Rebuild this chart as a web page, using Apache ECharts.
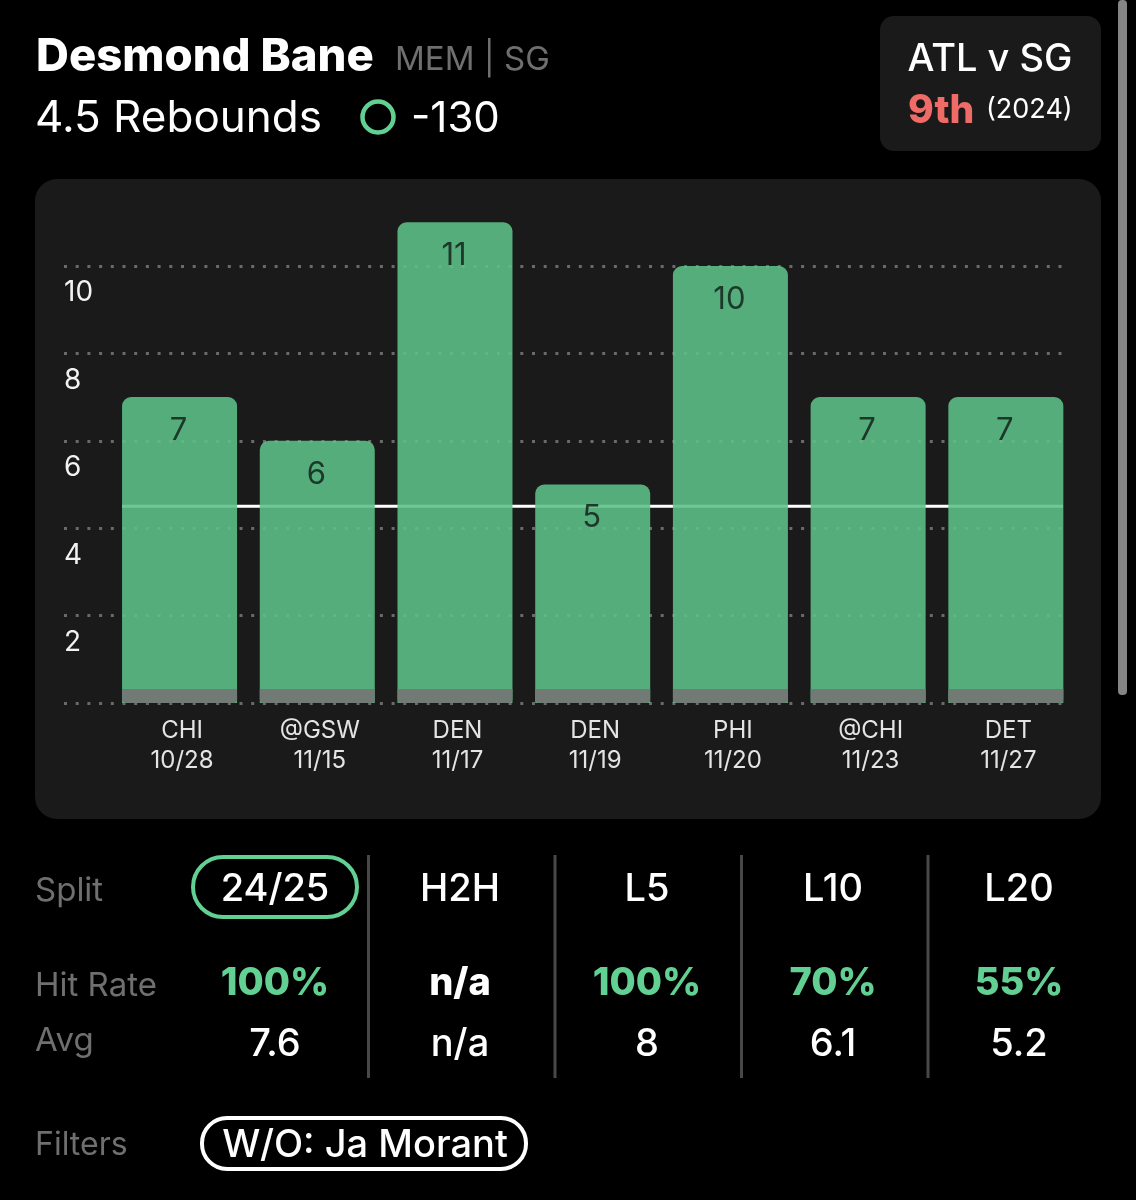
<!DOCTYPE html>
<html lang="en">
<head>
<meta charset="UTF-8">
<title>Desmond Bane rebounds</title>
<style>
  html, body { margin: 0; background: #000; }
  #chart { width: 1136px; height: 1200px; }
</style>
</head>
<body>
<div id="chart"></div>
<script src="https://cdn.jsdelivr.net/npm/echarts@6/dist/echarts.min.js"></script>
<script>
var teams = ['CHI', '@GSW', 'DEN', 'DEN', 'PHI', '@CHI', 'DET'];
var dates = ['10/28', '11/15', '11/17', '11/19', '11/20', '11/23', '11/27'];
var rebounds = [7, 6, 11, 5, 10, 7, 7];
var propLine = [4.5, 4.5];
var baseStrip = [0.32, 0.32, 0.32, 0.32, 0.32, 0.32, 0.32];

var splits = ['24/25', 'H2H', 'L5', 'L10', 'L20'];
var hitRates = ['100%', 'n/a', '100%', '70%', '55%'];
var averages = ['7.6', 'n/a', '8', '6.1', '5.2'];

var FONT = 'Inter, "Noto Sans", sans-serif';
var GREEN = '#62d092';
var GREY = '#6f6f6f';
var colX = [275, 460, 647, 833, 1019];
var sepX = [368.5, 555, 741.5, 928];

function text(x, y, str, size, color, weight, align) {
  return {
    type: 'text', z: 10, x: x, y: y,
    style: {
      text: str, fontFamily: FONT, fontSize: size, fill: color,
      fontWeight: weight || 400, align: align || 'left', verticalAlign: 'middle'
    }
  };
}

var graphics = [
  // panels
  { type: 'rect', z: -2, shape: { x: 35, y: 179, width: 1066, height: 640, r: 22 }, style: { fill: '#1a1a1a' } },
  { type: 'rect', z: -2, shape: { x: 880, y: 16, width: 221, height: 135, r: 14 }, style: { fill: '#1a1a1a' } },
  { type: 'rect', z: -2, shape: { x: 1118, y: 0, width: 9, height: 695, r: 4 }, style: { fill: '#858585' } },

  // header
  text(36, 57, 'Desmond Bane', 45.5, '#fff', 800),
  text(395, 60, 'MEM | SG', 33, GREY),
  text(35, 119, '4.5 Rebounds', 44, '#fff'),
  { type: 'circle', z: 10, shape: { cx: 378, cy: 117, r: 15.5 }, style: { fill: 'none', stroke: GREEN, lineWidth: 4.5 } },
  text(411, 119, '-130', 42, '#fff'),
  text(990, 60, 'ATL v SG', 38, '#fff', 500, 'center'),
  text(908, 111, '9th', 39, '#ee6b67', 800),
  text(986, 110, '(2024)', 27, '#fff'),

  // table row headings
  text(35, 891, 'Split', 33, GREY),
  text(35, 986, 'Hit Rate', 33, GREY),
  text(35, 1041, 'Avg', 33, GREY),
  text(35, 1145, 'Filters', 32, GREY),

  // pills
  { type: 'rect', z: 10, shape: { x: 193, y: 857, width: 164, height: 60, r: 30 }, style: { fill: 'none', stroke: GREEN, lineWidth: 4 } },
  { type: 'rect', z: 10, shape: { x: 202, y: 1118, width: 324, height: 51, r: 25 }, style: { fill: 'none', stroke: '#fff', lineWidth: 4 } },
  text(365, 1146, 'W/O: Ja Morant', 38, '#fff', 500, 'center')
];

sepX.forEach(function (x) {
  graphics.push({ type: 'line', z: 10, shape: { x1: x, y1: 855, x2: x, y2: 1078 }, style: { stroke: '#484848', lineWidth: 3 } });
});
splits.forEach(function (s, i) {
  graphics.push(text(colX[i], 890, s, 38, '#fff', 500, 'center'));
  graphics.push(text(colX[i], 984, hitRates[i], 38, hitRates[i] === 'n/a' ? '#fff' : GREEN, 800, 'center'));
  graphics.push(text(colX[i], 1045, averages[i], 38, '#fff', 500, 'center'));
});

var option = {
  backgroundColor: '#000',
  animation: false,
  graphic: graphics,
  grid: [
    // bars
    { left: 110.7, top: 178.6, width: 964, height: 524.4 },
    // dotted rules and value labels run wider than the bars
    { left: 64, top: 178.6, width: 1004, height: 524.4 },
    // the prop line spans first bar edge to last bar edge
    { left: 122, top: 178.6, width: 941, height: 524.4 }
  ],
  xAxis: [
    {
      type: 'category', gridIndex: 0,
      data: teams.map(function (t, i) { return t + '\n' + dates[i]; }),
      axisLine: { show: false }, axisTick: { show: false },
      axisLabel: { color: '#e4e4e4', fontFamily: FONT, fontSize: 24, lineHeight: 30, margin: 13, padding: [0, 0, 0, 5] }
    },
    { type: 'category', gridIndex: 1, data: teams, show: false },
    { type: 'category', gridIndex: 2, data: ['start', 'end'], boundaryGap: false, show: false }
  ],
  yAxis: [
    { type: 'value', gridIndex: 0, min: 0, max: 12, interval: 2, show: false },
    {
      type: 'value', gridIndex: 1, min: 0, max: 12, interval: 2,
      axisLine: { show: false }, axisTick: { show: false },
      axisLabel: {
        inside: true, margin: 0, color: '#f2f2f2', fontFamily: FONT, fontSize: 28,
        align: 'left', verticalAlign: 'top', padding: [13, 0, 0, 0],
        formatter: function (v) { return v === 0 || v === 12 ? '' : v; }
      },
      splitLine: {
        show: true, showMaxLine: false,
        lineStyle: { color: '#6a6a6a', width: 3, type: [3, 8.7] }
      }
    },
    { type: 'value', gridIndex: 2, min: 0, max: 12, interval: 2, show: false }
  ],
  series: [
    {
      type: 'line', xAxisIndex: 2, yAxisIndex: 2, z: 1, data: propLine,
      symbol: 'none', silent: true,
      lineStyle: { color: '#fff', width: 3 }
    },
    {
      type: 'bar', xAxisIndex: 0, yAxisIndex: 0, z: 2, data: rebounds,
      barWidth: 115, barGap: '-100%',
      itemStyle: { color: '#5cc088', opacity: 0.89, borderRadius: [9, 9, 0, 0] },
      label: {
        show: true, position: 'insideTop', distance: 18, offset: [-1, 0],
        color: '#16291f', fontFamily: FONT, fontSize: 31
      }
    },
    {
      type: 'bar', xAxisIndex: 0, yAxisIndex: 0, z: 3, data: baseStrip,
      barWidth: 115, barGap: '-100%',
      itemStyle: { color: '#717a75', borderRadius: [0, 0, 4, 4] }
    }
  ]
};

var chart = echarts.init(document.getElementById('chart'));
chart.setOption(option);
</script>
</body>
</html>
